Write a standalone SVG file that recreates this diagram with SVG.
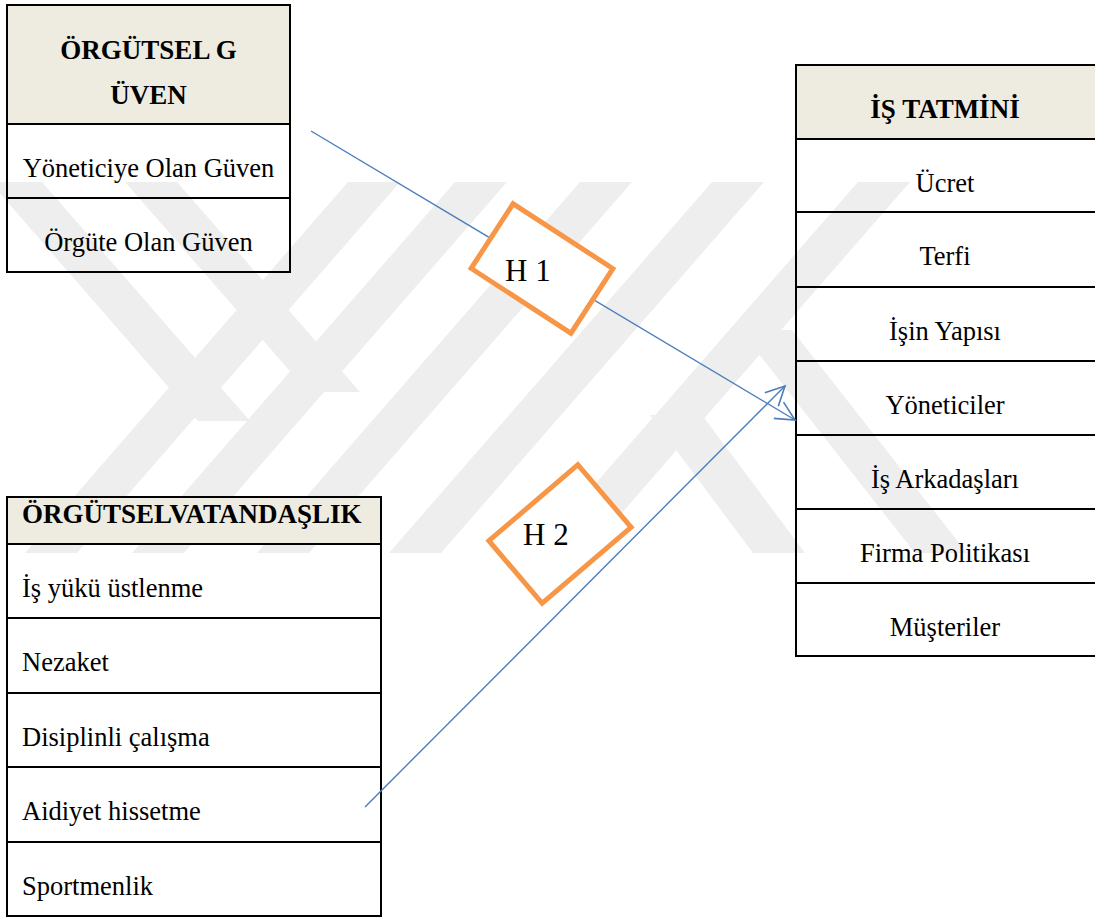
<svg xmlns="http://www.w3.org/2000/svg" width="1095" height="918" viewBox="0 0 1095 918">
  <defs>
    <style>
      .cell { fill: none; stroke: #000000; stroke-width: 2; }
      .head { fill: #EEECE1; stroke: #000000; stroke-width: 2; }
      .t { font-family: "Liberation Serif", "Times New Roman", serif; font-size: 26.5px; fill: #000000; }
      .b { font-weight: bold; font-size: 27px; }
      .c { text-anchor: middle; }
      .h { font-size: 31px; }
      .conn { fill: none; stroke: #4A7EBB; stroke-width: 1.4; }
      .hyp { fill: #ffffff; stroke: #F79646; stroke-width: 5; }
      .wm { fill: #EEEEEE; stroke: none; }
    </style>
    <clipPath id="wmclip">
      <rect x="0" y="182" width="1095" height="371"/>
    </clipPath>
    <marker id="arr" markerUnits="userSpaceOnUse" markerWidth="30" markerHeight="30" viewBox="-24 -15 30 30" refX="0" refY="0" orient="auto" overflow="visible">
      <path d="M -19 -9.5 L 0 0 L -19 9.5" fill="none" stroke="#4A7EBB" stroke-width="1.6"/>
    </marker>
  </defs>
  <rect x="0" y="0" width="1095" height="918" fill="#ffffff"/>

  <g id="watermark" clip-path="url(#wmclip)">
    <polygon class="wm" points="348,182 400,182 77,553 25,553"/>
    <polygon class="wm" points="455,182 507,182 184,553 132,553"/>
    <polygon class="wm" points="580,182 632,182 309,553 257,553"/>
    <polygon class="wm" points="712,182 764,182 441,553 389,553"/>
    <polygon class="wm" points="858,182 910,182 587,553 535,553"/>
    <polygon class="wm" points="-10,182 42,182 250,421 198,421"/>
    <polygon class="wm" points="125,182 177,182 360,392 308,392"/>
    <polygon class="wm" points="740,330 792,330 967,553 915,553"/>
    <polygon class="wm" points="650,415 702,415 805,553 753,553"/>
  </g>

  <g id="node-orgutsel-guven">
    <rect class="head" x="7" y="5" width="283" height="119"/>
    <rect class="cell" x="7" y="124" width="283" height="74"/>
    <rect class="cell" x="7" y="198" width="283" height="74"/>
    <text class="t b c" x="148.5" y="59">ÖRGÜTSEL G</text>
    <text class="t b c" x="148.5" y="104">ÜVEN</text>
    <text class="t c" x="148.5" y="177">Yöneticiye Olan Güven</text>
    <text class="t c" x="148.5" y="251">Örgüte Olan Güven</text>
  </g>

  <g id="node-is-tatmini">
    <rect class="head" x="796" y="65" width="320" height="74"/>
    <rect class="cell" x="796" y="139" width="320" height="73"/>
    <rect class="cell" x="796" y="212" width="320" height="75"/>
    <rect class="cell" x="796" y="287" width="320" height="74"/>
    <rect class="cell" x="796" y="361" width="320" height="74"/>
    <rect class="cell" x="796" y="435" width="320" height="74"/>
    <rect class="cell" x="796" y="509" width="320" height="74"/>
    <rect class="cell" x="796" y="583" width="320" height="73"/>
    <text class="t b c" x="945" y="118">İŞ TATMİNİ</text>
    <text class="t c" x="945" y="192">Ücret</text>
    <text class="t c" x="945" y="265">Terfi</text>
    <text class="t c" x="945" y="340">İşin Yapısı</text>
    <text class="t c" x="945" y="414">Yöneticiler</text>
    <text class="t c" x="945" y="488">İş Arkadaşları</text>
    <text class="t c" x="945" y="562">Firma Politikası</text>
    <text class="t c" x="945" y="636">Müşteriler</text>
  </g>

  <g id="node-orgutsel-vatandaslik">
    <rect class="head" x="7" y="497" width="374" height="47"/>
    <rect class="cell" x="7" y="544" width="374" height="74"/>
    <rect class="cell" x="7" y="618" width="374" height="75"/>
    <rect class="cell" x="7" y="693" width="374" height="74"/>
    <rect class="cell" x="7" y="767" width="374" height="75"/>
    <rect class="cell" x="7" y="842" width="374" height="74"/>
    <text class="t b" x="22" y="523">ÖRGÜTSELVATANDAŞLIK</text>
    <text class="t" x="22" y="597">İş yükü üstlenme</text>
    <text class="t" x="22" y="671">Nezaket</text>
    <text class="t" x="22" y="746">Disiplinli çalışma</text>
    <text class="t" x="22" y="820">Aidiyet hissetme</text>
    <text class="t" x="22" y="895">Sportmenlik</text>
  </g>

  <g id="connectors">
    <line class="conn" x1="311" y1="131" x2="795" y2="420" marker-end="url(#arr)"/>
    <line class="conn" x1="365" y1="807" x2="785" y2="386" marker-end="url(#arr)"/>
  </g>

  <g id="node-h1">
    <rect class="hyp" x="-59.5" y="-38.5" width="119" height="77" transform="translate(542 268.5) rotate(33)"/>
    <text class="t h" x="505" y="281">H 1</text>
  </g>

  <g id="node-h2">
    <rect class="hyp" x="-58.5" y="-41" width="117" height="82" transform="translate(560 534) rotate(-40.5)"/>
    <text class="t h" x="523" y="545">H 2</text>
  </g>
</svg>
